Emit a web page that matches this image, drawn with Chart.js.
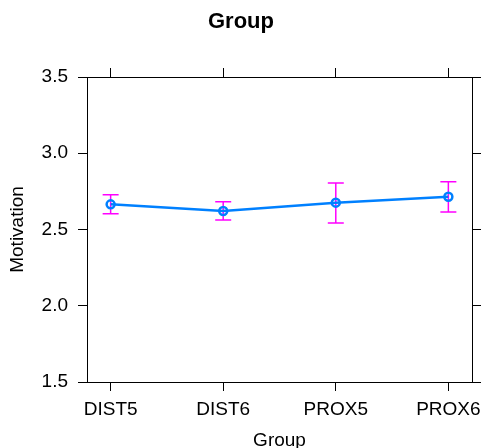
<!DOCTYPE html>
<html>
<head>
<meta charset="utf-8">
<script src="https://cdn.jsdelivr.net/npm/chart.js@4"></script>
<style>
  html, body { margin: 0; padding: 0; background: #fff; }
  #wrap { width: 482px; height: 448px; }
</style>
</head>
<body>
<div id="wrap"><canvas id="c" width="482" height="448"></canvas></div>
<script>
// group means with upper / lower error limits
const groups = ['DIST5', 'DIST6', 'PROX5', 'PROX6'];
const means = [2.665, 2.621, 2.676, 2.715];
const upper = [2.728, 2.682, 2.805, 2.813];
const lower = [2.604, 2.562, 2.543, 2.615];
const yTicks = [1.5, 2.0, 2.5, 3.0, 3.5];

const FONT = 'Liberation Sans, Arial, Helvetica, sans-serif';

// draws the magenta error bars from the arrays above, through the scales
const errorBars = {
  id: 'errorBars',
  beforeDatasetsDraw(chart) {
    const { ctx, scales: { x, y } } = chart;
    ctx.save();
    ctx.strokeStyle = '#ff00ff';
    ctx.lineWidth = 1.5;
    groups.forEach((g, i) => {
      const px = x.getPixelForValue(i + 1);
      const top = y.getPixelForValue(upper[i]);
      const bot = y.getPixelForValue(lower[i]);
      ctx.beginPath();
      ctx.moveTo(px, top); ctx.lineTo(px, bot);
      ctx.moveTo(px - 8, top); ctx.lineTo(px + 8, top);
      ctx.moveTo(px - 8, bot); ctx.lineTo(px + 8, bot);
      ctx.stroke();
    });
    ctx.restore();
  }
};

const catTicks = s => { s.ticks = groups.map((g, i) => ({ value: i + 1 })); };
const numTicks = s => { s.ticks = yTicks.map(v => ({ value: v })); };

// fixed box sizes so the plot frame lands where the reference has it
const fixBox = (w, h) => s => {
  if (w !== null) s.width = w;
  if (h !== null) s.height = h;
  s.paddingLeft = s.paddingRight = s.paddingTop = s.paddingBottom = 0;
};

const axisBase = {
  grid: { drawOnChartArea: false, color: '#000', tickLength: 9, lineWidth: 1 },
  border: { display: true, color: '#000', width: 1 }
};

new Chart(document.getElementById('c'), {
  type: 'line',
  data: {
    datasets: [{
      data: groups.map((g, i) => ({ x: i + 1, y: means[i] })),
      borderColor: '#0080ff',
      borderWidth: 2.5,
      pointRadius: 4,
      pointBorderWidth: 2.5,
      pointBorderColor: '#0080ff',
      pointBackgroundColor: 'rgba(0,0,0,0)',
      tension: 0
    }]
  },
  options: {
    responsive: false,
    animation: false,
    layout: { padding: 0, autoPadding: false },
    plugins: {
      legend: { display: false },
      tooltip: { enabled: false },
      title: {
        display: true,
        text: 'Group',
        color: '#000',
        font: { family: FONT, size: 22, weight: 'bold' },
        padding: { top: 9, bottom: 0 }
      }
    },
    scales: {
      x: {
        ...axisBase,
        type: 'linear',
        position: 'bottom',
        min: 0.79,
        max: 4.21,
        afterBuildTicks: catTicks,
        afterFit: fixBox(null, 66),
        ticks: {
          color: '#000',
          font: { family: FONT, size: 19 },
          padding: 7,
          maxRotation: 0,
          autoSkip: false,
          callback: v => groups[v - 1]
        },
        title: {
          display: true,
          text: 'Group',
          color: '#000',
          font: { family: FONT, size: 19, lineHeight: 1 },
          padding: { top: 0, bottom: -2 }
        }
      },
      x2: {
        ...axisBase,
        type: 'linear',
        position: 'top',
        min: 0.79,
        max: 4.21,
        afterBuildTicks: catTicks,
        afterFit: s => { fixBox(null, 77 - s.chart.titleBlock.height)(s); },
        ticks: { display: false }
      },
      y: {
        ...axisBase,
        type: 'linear',
        position: 'left',
        min: 1.5,
        max: 3.5,
        afterBuildTicks: numTicks,
        afterFit: fixBox(87, null),
        ticks: {
          color: '#000',
          font: { family: FONT, size: 19 },
          padding: 10,
          callback: v => v.toFixed(1)
        },
        title: {
          display: true,
          text: 'Motivation',
          color: '#000',
          font: { family: FONT, size: 19 },
          padding: { top: 6, bottom: 0 }
        }
      },
      y2: {
        ...axisBase,
        type: 'linear',
        position: 'right',
        min: 1.5,
        max: 3.5,
        afterBuildTicks: numTicks,
        afterFit: fixBox(10, null),
        ticks: { display: false }
      }
    }
  },
  plugins: [errorBars]
});
</script>
</body>
</html>
